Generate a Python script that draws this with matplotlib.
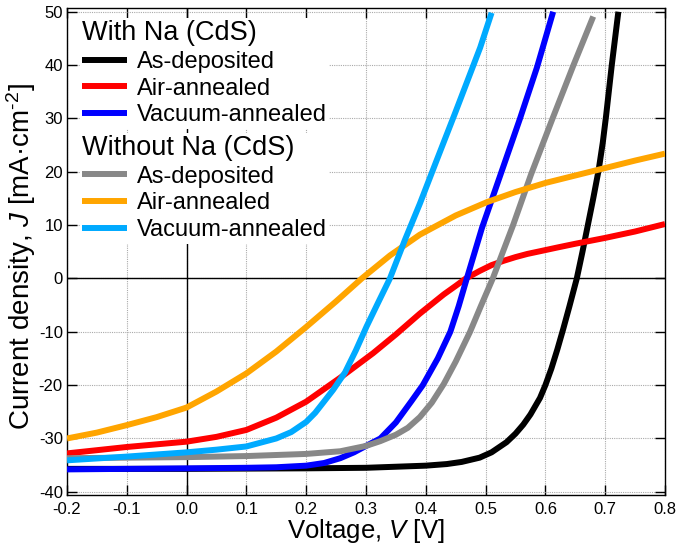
import matplotlib
matplotlib.use("Agg")
import matplotlib.pyplot as plt
from matplotlib.ticker import FormatStrFormatter

plt.rcParams["font.family"] = ["Liberation Sans", "DejaVu Sans"]
plt.rcParams["mathtext.fontset"] = "custom"
plt.rcParams["mathtext.rm"] = "Liberation Sans"
plt.rcParams["mathtext.it"] = "Liberation Sans:italic"
plt.rcParams["axes.unicode_minus"] = False

# J-V curves, with Na in CdS
v_na_asdep = [-0.2, 0.0, 0.2, 0.3, 0.35, 0.4, 0.435, 0.46, 0.49, 0.51, 0.535, 0.55,
              0.563, 0.575, 0.591, 0.60, 0.61, 0.62, 0.63, 0.64, 0.6525, 0.662,
              0.671, 0.68, 0.689, 0.696, 0.7015, 0.711, 0.722]
j_na_asdep = [-35.7, -35.7, -35.6, -35.5, -35.3, -35.1, -34.8, -34.4, -33.6, -32.6,
              -30.7, -29.1, -27.4, -25.5, -22.4, -20.0, -16.9, -13.3, -9.4, -5.3,
              0.0, 5.0, 10.0, 15.0, 20.3, 25.5, 30.5, 40.0, 50.0]

v_na_air = [-0.2, -0.1, 0.0, 0.05, 0.1, 0.15, 0.2, 0.257, 0.312, 0.35, 0.39, 0.41,
            0.43, 0.45, 0.467, 0.49, 0.51, 0.53, 0.55, 0.57, 0.591, 0.62, 0.65,
            0.70, 0.75, 0.80]
j_na_air = [-32.8, -31.6, -30.6, -29.7, -28.4, -26.1, -23.1, -18.6, -14.0, -10.5,
            -6.6, -4.8, -3.0, -1.4, 0.0, 1.4, 2.5, 3.3, 4.0, 4.6, 5.1, 5.8, 6.5,
            7.6, 8.8, 10.2]

v_na_vac = [-0.2, -0.1, 0.0, 0.1, 0.15, 0.2, 0.23, 0.257, 0.28, 0.30, 0.324, 0.35,
            0.376, 0.395, 0.42, 0.441, 0.455, 0.4686, 0.494, 0.526, 0.557, 0.586, 0.613]
j_na_vac = [-35.8, -35.7, -35.6, -35.5, -35.4, -35.1, -34.6, -33.7, -32.6, -31.4,
            -30.0, -27.0, -23.0, -20.0, -15.0, -10.0, -5.2, 0.0, 9.5, 19.8, 29.8,
            39.6, 50.0]

# J-V curves, without Na in CdS
v_asdep = [-0.2, 0.0, 0.1, 0.2, 0.257, 0.30, 0.324, 0.35, 0.37, 0.39, 0.41, 0.43,
           0.45, 0.474, 0.492, 0.512, 0.546, 0.576, 0.612, 0.647, 0.680]
j_asdep = [-33.7, -33.5, -33.3, -32.9, -32.4, -31.4, -30.5, -29.3, -28.0, -26.0,
           -23.3, -19.8, -15.6, -10.0, -5.2, 0.0, 10.0, 19.5, 30.0, 40.0, 49.1]

v_air = [-0.2, -0.15, -0.1, -0.05, 0.0, 0.05, 0.1, 0.15, 0.2, 0.25, 0.293, 0.34,
         0.39, 0.45, 0.502, 0.55, 0.60, 0.65, 0.70, 0.75, 0.8]
j_air = [-30.0, -28.9, -27.5, -26.0, -24.2, -21.2, -17.8, -13.7, -9.1, -4.3, 0.0,
         4.3, 8.2, 11.8, 14.3, 16.2, 17.9, 19.3, 20.7, 22.1, 23.4]

v_vac = [-0.2, -0.1, 0.0, 0.05, 0.1, 0.15, 0.175, 0.2, 0.215, 0.229, 0.245, 0.265,
         0.283, 0.301, 0.32, 0.340, 0.365, 0.390, 0.418, 0.45, 0.491, 0.510]
j_vac = [-34.1, -33.4, -32.6, -32.1, -31.5, -30.0, -28.8, -26.9, -25.2, -23.2,
         -20.9, -17.6, -13.5, -9.0, -4.6, 0.0, 7.2, 14.0, 22.1, 31.3, 43.3, 49.8]

labels = ["As-deposited", "Air-annealed", "Vacuum-annealed"]
xticks = [-0.2, -0.1, 0.0, 0.1, 0.2, 0.3, 0.4, 0.5, 0.6, 0.7, 0.8]
yticks = [-40, -30, -20, -10, 0, 10, 20, 30, 40, 50]

fig = plt.figure(figsize=(6.76, 5.47), dpi=100)
ax = fig.add_axes([67 / 676, 52 / 547, 598 / 676, 487 / 547])

ax.axhline(0, color="black", lw=1.0, zorder=1)
ax.axvline(0, color="black", lw=1.0, zorder=1)

lw = 4.3
kw = dict(lw=lw, solid_capstyle="butt", solid_joinstyle="round", zorder=3)
h_na = []
h_na += ax.plot(v_na_asdep, j_na_asdep, color="black", **kw)
h_na += ax.plot(v_na_air, j_na_air, color="#ff0000", **kw)
h_na += ax.plot(v_na_vac, j_na_vac, color="#0000ff", **kw)
h_no = []
h_no += ax.plot(v_asdep, j_asdep, color="#888888", **kw)
h_no += ax.plot(v_air, j_air, color="#ffa500", **kw)
h_no += ax.plot(v_vac, j_vac, color="#00aaff", **kw)

ax.set_xlim(-0.2, 0.8)
ax.set_ylim(-40.6, 50.7)
ax.set_xticks(xticks)
ax.set_yticks(yticks)
ax.xaxis.set_major_formatter(FormatStrFormatter("%.1f"))
ax.grid(True, color="#aaaaaa", lw=0.8, linestyle=(0, (1, 1)), zorder=0)
ax.set_axisbelow(True)
ax.tick_params(direction="in", length=7, width=1.0, top=True, right=True,
               labelsize=12, pad=5)
ax.tick_params(axis="y", pad=3)
for s in ax.spines.values():
    s.set_linewidth(1.0)

ax.set_xlabel("Voltage, $V$ [V]", fontsize=18.5, labelpad=0)
ax.set_ylabel(r"Current density, $J$ [mA·cm$^{\text{-2}}$]", fontsize=20)
ax.yaxis.set_label_coords(-0.0485, 0.49)

leg_kw = dict(loc="upper left", frameon=True, fancybox=False, edgecolor="none",
              facecolor="white", framealpha=1, borderpad=0.1, borderaxespad=0,
              handlelength=1.9, handletextpad=0.42, labelspacing=0.2,
              fontsize=17, title_fontsize=19.5, alignment="left")
leg1 = ax.legend(h_na, labels, title="With Na (CdS)",
                 bbox_to_anchor=(0.0217, 0.98), **leg_kw)
ax.add_artist(leg1)
leg2 = ax.legend(h_no, labels, title="Without Na (CdS)",
                 bbox_to_anchor=(0.0217, 0.744), **leg_kw)
for leg in (leg1, leg2):
    leg.set_zorder(5)

fig.savefig("out.png", dpi=100)
